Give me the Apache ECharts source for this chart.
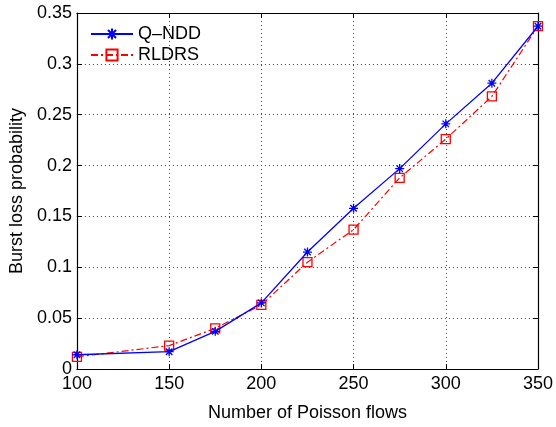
<!DOCTYPE html>
<html><head><meta charset="utf-8">
<script src="https://cdn.jsdelivr.net/npm/echarts@6/dist/echarts.min.js"></script>
<style>html,body{margin:0;padding:0;background:#fff}#c{width:556px;height:427px}</style>
</head><body><div id="c"></div>
<script>
const flows = [100, 150, 175, 200, 225, 250, 275, 300, 325, 350];
const qndd  = [0.014, 0.017, 0.037, 0.065, 0.115, 0.158, 0.197, 0.241, 0.281, 0.337];
const rldrs = [0.012, 0.023, 0.040, 0.063, 0.105, 0.137, 0.188, 0.226, 0.268, 0.337];
const xTicks = [100, 150, 200, 250, 300, 350];
const yTicks = [0, 0.05, 0.1, 0.15, 0.2, 0.25, 0.3, 0.35];

const FONT = 'Liberation Sans';
const asterisk = 'path://M0,-5L0,5M-5,0L5,0M-3.6,-3.6L3.6,3.6M-3.6,3.6L3.6,-3.6';
const chart = echarts.init(document.getElementById('c'), null, {renderer: 'canvas'});
const grid = {left: 76, right: 17, top: 13, bottom: 49, containLabel: false};
const tickCommon = {show: true, inside: true, length: 5, lineStyle: {color: '#000', width: 1}};
chart.setOption({
  animation: false,
  textStyle: {fontFamily: FONT},
  grid: grid,
  legend: {
    left: 85, top: 20, orient: 'vertical', itemGap: 3,
    itemWidth: 42, itemHeight: 14,
    textStyle: {fontFamily: FONT, fontSize: 18, color: '#000'},
    data: ['Q\u2013NDD', 'RLDRS']
  },
  xAxis: [{
    type: 'value', min: 100, max: 350, interval: 50,
    name: 'Number of Poisson flows', nameLocation: 'middle', nameGap: 35,
    nameTextStyle: {fontFamily: FONT, fontSize: 18, color: '#000'},
    axisLine: {show: true, onZero: false, lineStyle: {color: '#000', width: 1.2}},
    axisTick: tickCommon,
    axisLabel: {fontFamily: FONT, fontSize: 18, color: '#000', margin: 6,
      formatter: v => xTicks.includes(v) ? String(v) : ''},
    splitLine: {show: true, lineStyle: {color: '#444', type: [1, 3], width: 1}}
  }, {
    type: 'value', min: 100, max: 350, interval: 50, position: 'top',
    axisLine: {show: true, onZero: false, lineStyle: {color: '#000', width: 1.2}},
    axisTick: tickCommon, axisLabel: {show: false}, splitLine: {show: false}
  }],
  yAxis: [{
    type: 'value', min: 0, max: 0.35, interval: 0.05,
    name: 'Burst loss probability', nameLocation: 'middle', nameGap: 45,
    nameTextStyle: {fontFamily: FONT, fontSize: 18, color: '#000'},
    axisLine: {show: true, onZero: false, lineStyle: {color: '#000', width: 1.2}},
    axisTick: tickCommon,
    axisLabel: {fontFamily: FONT, fontSize: 18, color: '#000', margin: 5,
      formatter: v => { const t = yTicks.find(y => Math.abs(y - v) < 1e-9); return t === undefined ? '' : String(t); }},
    splitLine: {show: true, lineStyle: {color: '#444', type: [1, 3], width: 1}}
  }, {
    type: 'value', min: 0, max: 0.35, interval: 0.05, position: 'right',
    axisLine: {show: true, onZero: false, lineStyle: {color: '#000', width: 1.2}},
    axisTick: tickCommon, axisLabel: {show: false}, splitLine: {show: false}
  }],
  series: [{
    name: 'Q\u2013NDD', type: 'line', xAxisIndex: 0, yAxisIndex: 0,
    data: flows.map((x, i) => [x, qndd[i]]),
    symbol: asterisk, symbolSize: 9,
    itemStyle: {color: '#0000ff', borderColor: '#0000ff', borderWidth: 1.3},
    lineStyle: {color: '#0000ff', width: 1.3, type: 'solid'},
    z: 3
  }, {
    name: 'RLDRS', type: 'line', xAxisIndex: 0, yAxisIndex: 0,
    data: flows.map((x, i) => [x, rldrs[i]]),
    symbol: 'rect', symbolSize: 9,
    itemStyle: {color: 'rgba(255,255,255,0)', borderColor: '#ff0000', borderWidth: 1.3},
    lineStyle: {color: '#ff0000', width: 1.2, type: [7, 3, 2, 3]},
    z: 2
  }]
});
</script></body></html>
